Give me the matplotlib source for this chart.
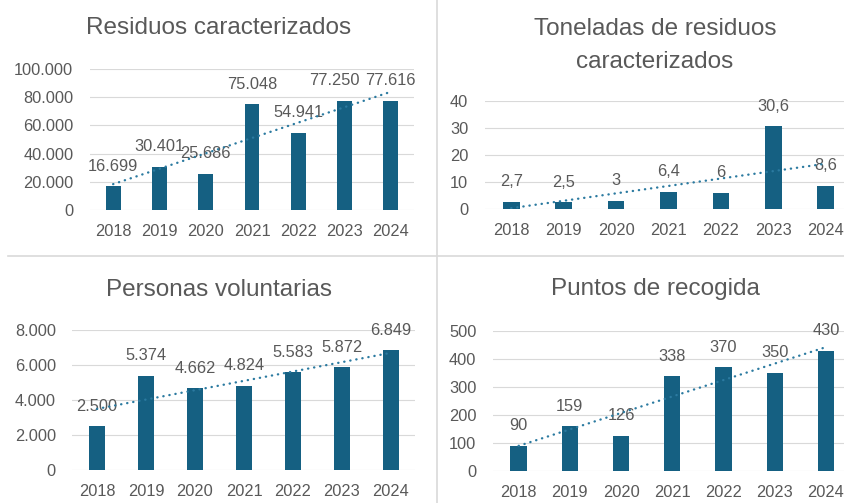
import numpy as np
import matplotlib
matplotlib.use("Agg")
import matplotlib.pyplot as plt
from matplotlib.lines import Line2D

years = ["2018", "2019", "2020", "2021", "2022", "2023", "2024"]

residuos = [16699, 30401, 25686, 75048, 54941, 77250, 77616]
toneladas = [2.7, 2.5, 3, 6.4, 6, 30.6, 8.6]
voluntarios = [2500, 5374, 4662, 4824, 5583, 5872, 6849]
puntos = [90, 159, 126, 338, 370, 350, 430]

titles = ["Residuos caracterizados", "Toneladas de residuos\ncaracterizados",
          "Personas voluntarias", "Puntos de recogida"]

BAR = "#156082"
TREND = "#2b7aa0"
GREY = "#595959"
GRID = "#d9d9d9"
W, H = 845, 503
FS = 11.8

plt.rcParams["font.family"] = ["Liberation Sans", "DejaVu Sans"]

fig = plt.figure(figsize=(W / 100, H / 100), dpi=100)


def es_num(v):
    # Spanish style: "." thousands, "," decimals
    if float(v).is_integer():
        return f"{int(round(v)):,}".replace(",", ".")
    return f"{v:.1f}".replace(".", ",")


def px_axes(left, right, top, bottom):
    return fig.add_axes([left / W, 1 - bottom / H, (right - left) / W, (bottom - top) / H])


def panel(ax, values, ymax, ystep, label_shift=None):
    x = np.arange(len(years))
    ax.bar(x, values, width=0.32, color=BAR, zorder=2)
    # linear trendline fitted to the data
    k, b = np.polyfit(x, values, 1)
    ax.plot(x, k * x + b, color=TREND, lw=1.7, linestyle=(0, (0.1, 2.5)),
            dash_capstyle="round", zorder=4)
    shifts = label_shift or {}
    for xi, v in zip(x, values):
        ax.annotate(es_num(v), (xi, v), xytext=(shifts.get(xi, 0), 14.5),
                    textcoords="offset points", ha="center", va="center",
                    fontsize=FS, color=GREY, zorder=3)
    ax.set_xlim(-0.5, len(years) - 0.5)
    ax.set_ylim(0, ymax)
    ticks = np.arange(0, ymax + ystep / 2, ystep)
    ax.set_yticks(ticks)
    ax.set_yticklabels([es_num(t) for t in ticks])
    ax.set_xticks(x)
    ax.set_xticklabels(years)
    ax.tick_params(axis="y", length=0, pad=12, labelsize=FS, labelcolor=GREY)
    ax.tick_params(axis="x", length=0, pad=10, labelsize=FS, labelcolor=GREY)
    for s in ax.spines.values():
        s.set_visible(False)
    ax.grid(axis="y", color=GRID, lw=0.8, zorder=0)
    ax.set_axisbelow(True)


ax1 = px_axes(90, 414, 69, 210)
panel(ax1, residuos, 100000, 20000, label_shift={5: -7})
ax2 = px_axes(485, 852, 101, 209)
panel(ax2, toneladas, 40, 10)
ax3 = px_axes(72.5, 415.5, 330, 470)
panel(ax3, voluntarios, 8000, 2000)
ax4 = px_axes(493, 851.6, 331, 471)
panel(ax4, puntos, 500, 100)

title_pos = [(219, 28), (655, 45.5), (219, 290), (655, 289)]
for t, (tx, ty) in zip(titles, title_pos):
    fig.text(tx / W, 1 - ty / H, t, ha="center", va="center", fontsize=17.5,
             color=GREY, linespacing=1.6)

# panel separators
fig.add_artist(Line2D([437 / W, 437 / W], [0, 1], color=GRID, lw=1.2))
fig.add_artist(Line2D([8 / W, 1], [1 - 256 / H, 1 - 256 / H], color=GRID, lw=1.2))

fig.savefig("out.png", dpi=100, facecolor="white")
